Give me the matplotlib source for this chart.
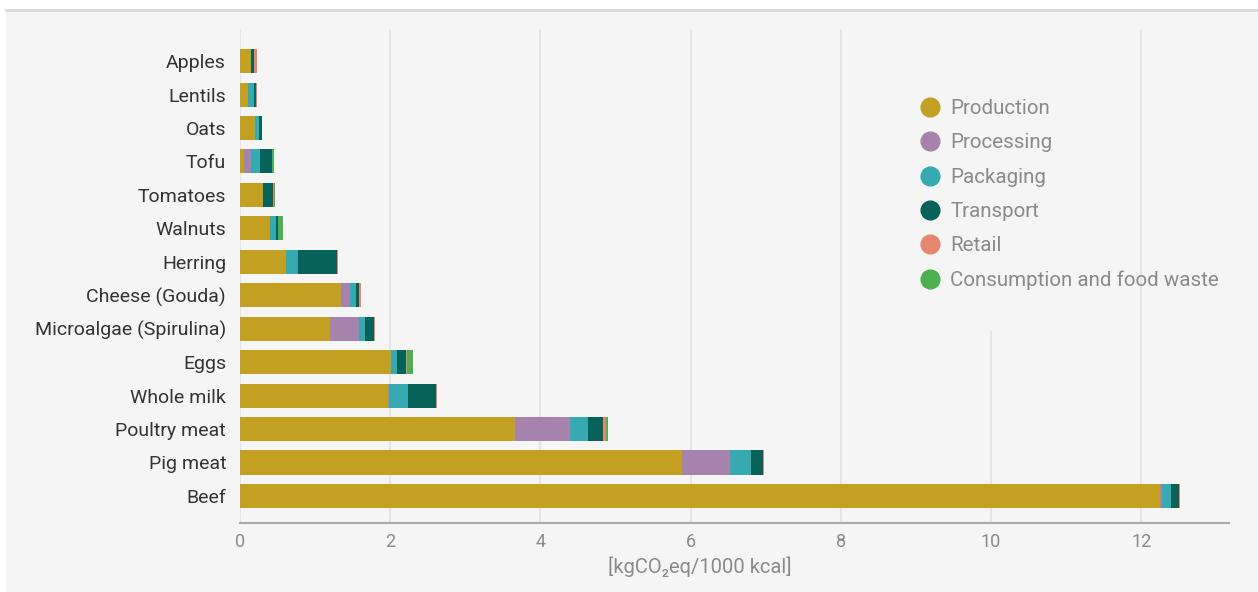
import matplotlib
matplotlib.use("Agg")
import matplotlib.pyplot as plt
from matplotlib.lines import Line2D
from matplotlib.patches import Rectangle
import numpy as np

plt.rcParams['font.family'] = ['Roboto', 'DejaVu Sans']

foods = ['Beef', 'Pig meat', 'Poultry meat', 'Whole milk', 'Eggs',
         'Microalgae (Spirulina)', 'Cheese (Gouda)', 'Herring', 'Walnuts',
         'Tomatoes', 'Tofu', 'Oats', 'Lentils', 'Apples']

# kgCO2eq / 1000 kcal, same order as foods
production = [12.25, 5.89, 3.66, 1.97, 2.01, 1.20, 1.35, 0.61, 0.40, 0.31, 0.05, 0.20, 0.11, 0.15]
processing = [0.03, 0.63, 0.73, 0.02, 0.00, 0.39, 0.12, 0.00, 0.00, 0.00, 0.09, 0.00, 0.00, 0.00]
packaging = [0.12, 0.29, 0.25, 0.25, 0.08, 0.08, 0.07, 0.16, 0.08, 0.00, 0.12, 0.05, 0.08, 0.00]
transport = [0.10, 0.15, 0.20, 0.37, 0.12, 0.11, 0.05, 0.52, 0.02, 0.13, 0.16, 0.04, 0.02, 0.04]
retail = [0.02, 0.02, 0.04, 0.02, 0.01, 0.02, 0.02, 0.02, 0.00, 0.01, 0.01, 0.00, 0.02, 0.03]
consumption = [0.00, 0.00, 0.02, 0.00, 0.08, 0.00, 0.00, 0.00, 0.07, 0.02, 0.02, 0.00, 0.00, 0.00]

stages = ['Production', 'Processing', 'Packaging', 'Transport', 'Retail',
          'Consumption and food waste']
series = [production, processing, packaging, transport, retail, consumption]
colors = ['#c3a022', '#a583ad', '#37a9b0', '#07625a', '#e5876f', '#4caf50']

panel = '#f4f5f4'
fig = plt.figure(figsize=(12.58, 5.92), dpi=100, facecolor='white')
fig.patches.append(Rectangle((6 / 1258, 0), 1 - 6 / 1258, 1 - 11 / 592,
                             transform=fig.transFigure, facecolor=panel,
                             edgecolor='none', zorder=-5))
fig.add_artist(Line2D([6 / 1258, 1], [1 - 10 / 592] * 2, color='#d9d9d9', lw=2, zorder=-4))

ax = fig.add_axes([240 / 1258, 1 - 523 / 592, 989 / 1258, 494 / 592])
ax.set_facecolor(panel)

y = np.arange(len(foods))
left = np.zeros(len(foods))
for vals, col, name in zip(series, colors, stages):
    ax.barh(y, vals, left=left, height=0.72, color=col, label=name, zorder=2)
    left += np.array(vals)

ax.set_ylim(-0.81, 13.96)
ax.set_xlim(0, 13.17)
ax.set_xticks(range(0, 13, 2))
ax.set_yticks(y)
ax.set_yticklabels(foods, fontsize=14, color='#333333')
ax.tick_params(axis='y', length=0, pad=10)
ax.tick_params(axis='x', length=0, pad=7, labelsize=13, labelcolor='#8a8a8a')
ax.grid(axis='x', color='#e4e5e4', lw=1.5)
ax.set_axisbelow(True)
for s in ['top', 'right', 'left']:
    ax.spines[s].set_visible(False)
ax.spines['bottom'].set_color('#aaaaaa')
ax.spines['bottom'].set_linewidth(1.5)

# legend box hides part of the grid
ax.add_patch(Rectangle(((895 - 240) / 989, (523 - 331) / 494), (1100 - 895) / 989, 1,
                       transform=ax.transAxes, facecolor=panel, edgecolor='none', zorder=1))

ax.text(0.465, -0.068, '[kgCO₂eq/1000 kcal]', transform=ax.transAxes,
        ha='center', va='top', fontsize=14.5, color='#8a8a8a')

handles = [Line2D([], [], marker='o', ls='', markersize=13.5, color=c) for c in colors]
leg = ax.legend(handles, stages, loc='upper left', frameon=False,
                bbox_to_anchor=((908 - 240) / 989, (523 - 89) / 494),
                fontsize=14.8, labelcolor='#8a8a8a', handletextpad=0.45,
                labelspacing=0.74, handlelength=1.1, borderpad=0)

fig.savefig('out.png', dpi=100, facecolor='white')
